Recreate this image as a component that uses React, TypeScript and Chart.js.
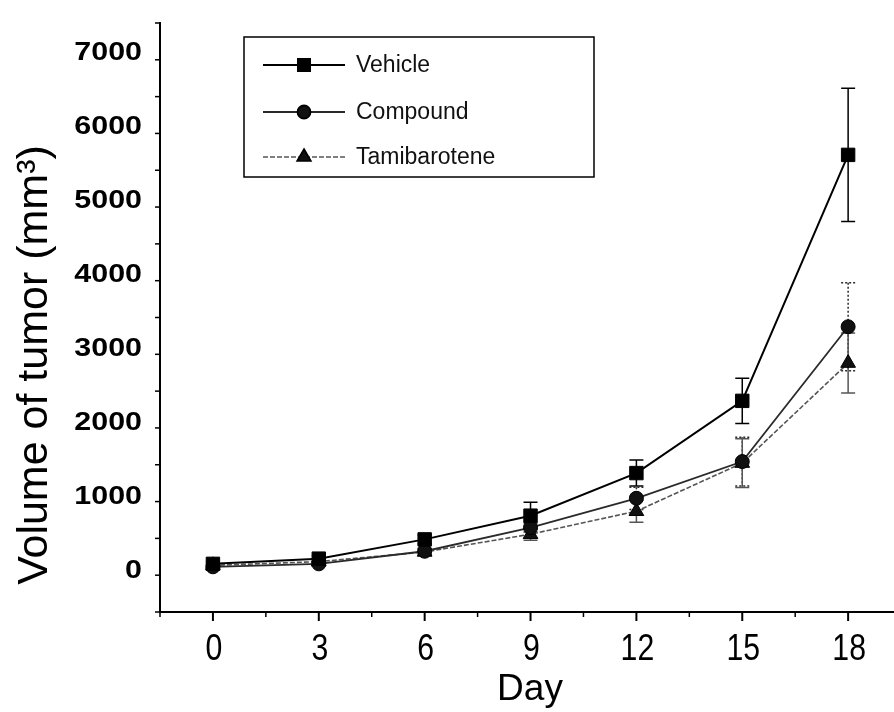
import React, { useEffect, useRef } from 'react';
import { Chart, registerables } from 'chart.js';
import { drawPoint } from 'chart.js/helpers';

Chart.register(...registerables);

// ---- data ----
const days = [0, 3, 6, 9, 12, 15, 18];
const vehicle = [100, 170, 430, 750, 1325, 2300, 5620];
const vehicleErr = [30, 40, 60, 180, 175, 305, 900];
const compound = [60, 100, 270, 590, 985, 1480, 3300];
const compoundErr = [20, 30, 40, 60, 150, 330, 595];
const tamibarotene = [80, 130, 260, 500, 810, 1460, 2810];
const tamibaroteneErr = [20, 30, 40, 80, 150, 330, 405];
const seriesNames = ['Vehicle', 'Compound', 'Tamibarotene'];
const xTickValues = [0, 3, 6, 9, 12, 15, 18];
const yTickValues = [0, 1000, 2000, 3000, 4000, 5000, 6000, 7000];
const xTitle = 'Day';
const yTitle = 'Volume of tumor (mm³)';

const FONT = "'Liberation Sans', Arial, Helvetica, sans-serif";
const errors = [vehicleErr, compoundErr, tamibaroteneErr];
const errDash = [[], [2, 2], []];

const toPoints = (vals: number[]) => days.map((d, i) => ({ x: d, y: vals[i] }));
const isMajorX = (v: number) => xTickValues.some((t) => Math.abs(t - v) < 1e-9);
const isMajorY = (v: number) => yTickValues.some((t) => Math.abs(t - v) < 1e-9);

const scaledText = (ctx: any, text: string, px: number, py: number, sx: number) => {
  ctx.save();
  ctx.translate(px, py);
  ctx.scale(sx, 1);
  ctx.fillText(text, 0, 0);
  ctx.restore();
};

const decorPlugin = {
  id: 'decor',
  beforeDatasetsDraw(chart: any) {
    const { ctx, scales } = chart;
    const x = scales.x;
    const y = scales.y;
    chart.data.datasets.forEach((ds: any, di: number) => {
      ctx.save();
      ctx.strokeStyle = ds.borderColor;
      ctx.lineWidth = 1.5;
      ctx.setLineDash(errDash[di]);
      ds.data.forEach((p: any, i: number) => {
        const e = errors[di][i];
        const px = x.getPixelForValue(p.x);
        const top = y.getPixelForValue(p.y + e);
        const bot = y.getPixelForValue(p.y - e);
        ctx.beginPath();
        ctx.moveTo(px, top);
        ctx.lineTo(px, bot);
        ctx.moveTo(px - 7, top);
        ctx.lineTo(px + 7, top);
        ctx.moveTo(px - 7, bot);
        ctx.lineTo(px + 7, bot);
        ctx.stroke();
      });
      ctx.restore();
    });
  },
  afterDraw(chart: any) {
    const { ctx, chartArea, scales } = chart;
    const x = scales.x;
    const y = scales.y;
    ctx.save();
    ctx.strokeStyle = '#000';
    ctx.fillStyle = '#000';
    // x ticks + labels
    x.ticks.forEach((t: any) => {
      const p = x.getPixelForValue(t.value);
      const major = isMajorX(t.value);
      ctx.lineWidth = major ? 2 : 1.5;
      ctx.beginPath();
      ctx.moveTo(p, chartArea.bottom);
      ctx.lineTo(p, chartArea.bottom + (major ? 9 : 5));
      ctx.stroke();
    });
    ctx.font = `36px ${FONT}`;
    ctx.textAlign = 'center';
    ctx.textBaseline = 'middle';
    xTickValues.forEach((v) => {
      scaledText(ctx, String(v), x.getPixelForValue(v) + 1, chartArea.bottom + 38, 0.84);
    });
    // y ticks + labels
    y.ticks.forEach((t: any) => {
      const p = y.getPixelForValue(t.value);
      const major = isMajorY(t.value);
      ctx.lineWidth = major ? 2 : 1.5;
      ctx.beginPath();
      ctx.moveTo(chartArea.left, p);
      ctx.lineTo(chartArea.left - (major ? 9 : 5), p);
      ctx.stroke();
    });
    ctx.font = `bold 26px ${FONT}`;
    ctx.textAlign = 'right';
    ctx.textBaseline = 'middle';
    yTickValues.forEach((v) => {
      scaledText(ctx, String(v), chartArea.left - 18, y.getPixelForValue(v), 1.17);
    });
    // axis titles
    ctx.textAlign = 'center';
    ctx.textBaseline = 'middle';
    ctx.font = `37px ${FONT}`;
    ctx.fillText(xTitle, (chartArea.left + chartArea.right) / 2 + 3, 690);
    ctx.save();
    ctx.translate(35, 365);
    ctx.rotate(-Math.PI / 2);
    ctx.font = `43px ${FONT}`;
    ctx.fillText(yTitle, 0, 0);
    ctx.restore();

    // legend box
    ctx.lineWidth = 1.5;
    ctx.setLineDash([]);
    ctx.strokeRect(244, 37, 350, 140);
    const rows = [65, 112, 157];
    const legendRadius = [8.5, 6.5, 8];
    chart.data.datasets.forEach((ds: any, di: number) => {
      const ry = rows[di];
      ctx.save();
      ctx.strokeStyle = ds.borderColor;
      ctx.lineWidth = ds.borderWidth;
      ctx.setLineDash(ds.borderDash || []);
      ctx.beginPath();
      ctx.moveTo(263, ry);
      ctx.lineTo(345, ry);
      ctx.stroke();
      ctx.setLineDash([]);
      ctx.fillStyle = ds.pointBackgroundColor;
      ctx.strokeStyle = ds.pointBorderColor;
      drawPoint(ctx, { pointStyle: ds.pointStyle, radius: legendRadius[di], rotation: 0, borderWidth: 1 } as any, 304, ry);
      ctx.restore();
      ctx.fillStyle = '#111';
      ctx.textAlign = 'left';
      ctx.textBaseline = 'middle';
      ctx.font = `23px ${FONT}`;
      ctx.fillText(seriesNames[di], 356, ry + 1);
    });
    ctx.restore();
  },
};

export default function App() {
  const ref = useRef<HTMLCanvasElement | null>(null);
  useEffect(() => {
    if (!ref.current) return;
    const chart = new Chart(ref.current, {
      type: 'line',
      data: {
        datasets: [
          {
            label: seriesNames[0],
            data: toPoints(vehicle),
            borderColor: '#000',
            backgroundColor: '#000',
            borderWidth: 2,
            pointStyle: 'rect',
            pointRadius: 9.5,
            pointBackgroundColor: '#000',
            pointBorderColor: '#000',
            pointBorderWidth: 1,
          },
          {
            label: seriesNames[1],
            data: toPoints(compound),
            borderColor: '#2a2a2a',
            backgroundColor: '#111',
            borderWidth: 1.8,
            pointStyle: 'circle',
            pointRadius: 7,
            pointBackgroundColor: '#111',
            pointBorderColor: '#000',
            pointBorderWidth: 1,
          },
          {
            label: seriesNames[2],
            data: toPoints(tamibarotene),
            borderColor: '#555',
            backgroundColor: '#111',
            borderWidth: 1.6,
            borderDash: [5, 2],
            pointStyle: 'triangle',
            pointRadius: 8.5,
            pointBackgroundColor: '#111',
            pointBorderColor: '#000',
            pointBorderWidth: 1,
          },
        ],
      } as any,
      options: {
        animation: false,
        responsive: false,
        layout: { autoPadding: false, padding: { top: 23, left: 0, right: 0, bottom: 0 } },
        plugins: { legend: { display: false }, tooltip: { enabled: false } },
        scales: {
          x: {
            type: 'linear',
            min: -1.5,
            max: 19.3,
            afterFit: (s: any) => {
              s.height = 100;
            },
            grid: { display: false, drawTicks: false },
            border: { display: true, color: '#000', width: 2 },
            ticks: { display: false, stepSize: 1.5, includeBounds: false, autoSkip: false },
          },
          y: {
            type: 'linear',
            min: -550,
            max: 7400,
            afterFit: (s: any) => {
              s.width = 160;
            },
            grid: { display: false, drawTicks: false },
            border: { display: true, color: '#000', width: 2 },
            ticks: { display: false, stepSize: 500, includeBounds: false, autoSkip: false },
          },
        },
      } as any,
      plugins: [decorPlugin],
    });
    return () => chart.destroy();
  }, []);
  return (
    <div style={{ position: 'absolute', left: 0, top: 0, width: 894, height: 712, background: '#fff' }}>
      <canvas ref={ref} width={894} height={712} style={{ display: 'block', width: 894, height: 712 }} />
    </div>
  );
}
